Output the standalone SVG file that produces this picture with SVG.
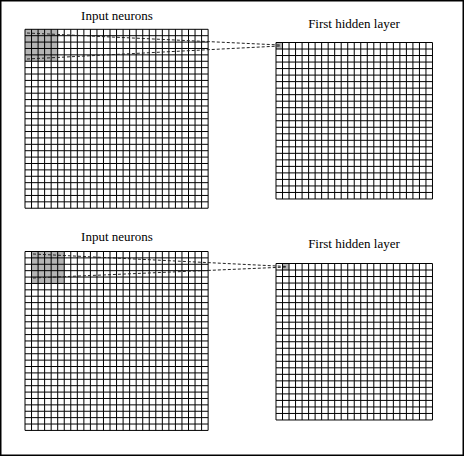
<svg xmlns="http://www.w3.org/2000/svg" xmlns:xlink="http://www.w3.org/1999/xlink" width="465" height="456" viewBox="0 0 465 456">
<style>
.grid{fill:none;stroke:#000;stroke-width:1}
.shade{fill:#b4b4b4;stroke:none}
.lbl{font-family:"Liberation Serif","Times New Roman",serif;font-size:13px;fill:#000;text-anchor:middle}
.conn{fill:none;stroke:#222;stroke-width:1;stroke-dasharray:3,2}
</style>
<defs>
<path id="inGrid" class="grid" d="M0 0V178.92M6.54 0V178.92M13.08 0V178.92M19.62 0V178.92M26.16 0V178.92M32.7 0V178.92M39.24 0V178.92M45.78 0V178.92M52.32 0V178.92M58.86 0V178.92M65.4 0V178.92M71.94 0V178.92M78.48 0V178.92M85.02 0V178.92M91.56 0V178.92M98.1 0V178.92M104.64 0V178.92M111.18 0V178.92M117.72 0V178.92M124.26 0V178.92M130.8 0V178.92M137.34 0V178.92M143.88 0V178.92M150.42 0V178.92M156.96 0V178.92M163.5 0V178.92M170.04 0V178.92M176.58 0V178.92M183.12 0V178.92M0 0H183.12M0 6.39H183.12M0 12.78H183.12M0 19.17H183.12M0 25.56H183.12M0 31.95H183.12M0 38.34H183.12M0 44.73H183.12M0 51.12H183.12M0 57.51H183.12M0 63.9H183.12M0 70.29H183.12M0 76.68H183.12M0 83.07H183.12M0 89.46H183.12M0 95.85H183.12M0 102.24H183.12M0 108.63H183.12M0 115.02H183.12M0 121.41H183.12M0 127.8H183.12M0 134.19H183.12M0 140.58H183.12M0 146.97H183.12M0 153.36H183.12M0 159.75H183.12M0 166.14H183.12M0 172.53H183.12M0 178.92H183.12"/>
<path id="hidGrid" class="grid" d="M0 0V156.48M6.52 0V156.48M13.04 0V156.48M19.56 0V156.48M26.08 0V156.48M32.6 0V156.48M39.12 0V156.48M45.64 0V156.48M52.16 0V156.48M58.68 0V156.48M65.2 0V156.48M71.72 0V156.48M78.24 0V156.48M84.76 0V156.48M91.28 0V156.48M97.8 0V156.48M104.32 0V156.48M110.84 0V156.48M117.36 0V156.48M123.88 0V156.48M130.4 0V156.48M136.92 0V156.48M143.44 0V156.48M149.96 0V156.48M156.48 0V156.48M0 0H156.48M0 6.52H156.48M0 13.04H156.48M0 19.56H156.48M0 26.08H156.48M0 32.6H156.48M0 39.12H156.48M0 45.64H156.48M0 52.16H156.48M0 58.68H156.48M0 65.2H156.48M0 71.72H156.48M0 78.24H156.48M0 84.76H156.48M0 91.28H156.48M0 97.8H156.48M0 104.32H156.48M0 110.84H156.48M0 117.36H156.48M0 123.88H156.48M0 130.4H156.48M0 136.92H156.48M0 143.44H156.48M0 149.96H156.48M0 156.48H156.48"/>
</defs>
<rect x="0.75" y="0.75" width="462.5" height="454.5" fill="#fff" stroke="#000" stroke-width="1.5"/>
<g id="input-top">
<text class="lbl" x="117" y="20">Input neurons</text>
<rect class="shade" x="25" y="29.3" width="32.7" height="31.95"/>
<use xlink:href="#inGrid" href="#inGrid" transform="translate(25 29.3)"/>
</g>
<g id="hidden-top">
<text class="lbl" x="354" y="28">First hidden layer</text>
<rect class="shade" x="276" y="42.5" width="6.52" height="6.52"/>
<use xlink:href="#hidGrid" href="#hidGrid" transform="translate(276 42.5)"/>
</g>
<g id="input-bottom">
<text class="lbl" x="117" y="241">Input neurons</text>
<rect class="shade" x="31.54" y="251.5" width="32.7" height="31.95"/>
<use xlink:href="#inGrid" href="#inGrid" transform="translate(25 251.5)"/>
</g>
<g id="hidden-bottom">
<text class="lbl" x="354" y="248">First hidden layer</text>
<rect class="shade" x="282.52" y="263.5" width="6.52" height="6.52"/>
<use xlink:href="#hidGrid" href="#hidGrid" transform="translate(276 263.5)"/>
</g>
<g id="connectors">
<path class="conn" d="M27 33L280 45"/>
<path class="conn" d="M27 59L280 46"/>
<path class="conn" d="M33 254L287 266.5"/>
<path class="conn" d="M33 278L287 267"/>
</g>
</svg>
